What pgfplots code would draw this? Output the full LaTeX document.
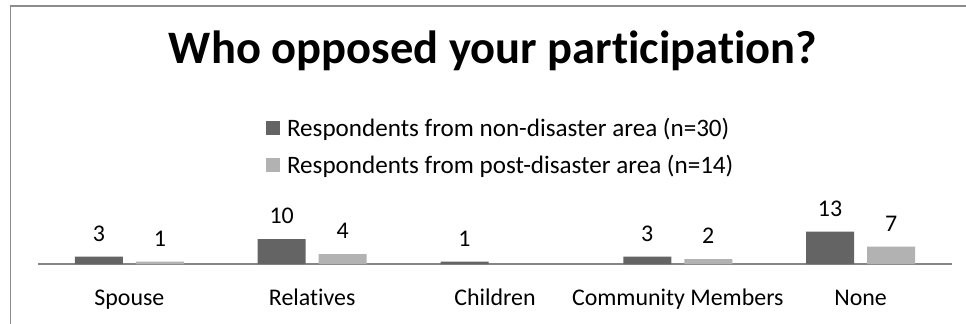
\documentclass[border=0pt]{standalone}
\usepackage{fontspec}
\setmainfont{Carlito}[Ligatures=NoCommon]
\usepackage{pgfplots}
\pgfplotsset{compat=1.18}
\definecolor{dark}{HTML}{646464}
\definecolor{light}{HTML}{B2B2B2}
\definecolor{axisgray}{HTML}{868686}
\definecolor{framegray}{HTML}{8C8C8C}
\begin{document}
\begin{tikzpicture}
\useasboundingbox (0,0) rectangle (966bp,324bp);
\fill[white] (0,0) rectangle (966bp,324bp);
\draw[framegray, line width=1.5bp] (10.5bp,0) -- (10.5bp,318bp) -- (966bp,318bp);
\node[anchor=base, font=\fontsize{46.7}{54}\selectfont\bfseries, inner sep=0pt] at (493bp,260bp) {Who opposed your participation?};
\begin{axis}[
  at={(38bp,60bp)}, anchor=south west,
  scale only axis, width=914bp, height=50bp,
  xmin=-0.5, xmax=4.5, ymin=0, ymax=20,
  ybar=13bp, bar width=48bp,
  axis x line*=bottom, axis y line=none,
  x axis line style={axisgray, line width=1.5bp, -},
  xtick={0,1,2,3,4},
  xticklabels={Spouse,Relatives,Children,Community Members,None},
  major tick length=0pt,
  xticklabel style={font=\fontsize{24}{28}\selectfont, anchor=base, yshift=-41bp, inner sep=0pt},
  nodes near coords,
  every node near coord/.append style={font=\fontsize{24}{28}\selectfont, anchor=base, yshift=15.5bp, inner sep=0pt, text=black},
  /pgf/number format/assume math mode=true,
  clip=false,
  legend image code/.code={\path[#1,draw=none] (0bp,-7bp) rectangle (14bp,7bp);},
  legend cell align=left,
  legend style={at={(rel axis cs:0.2495,2.96)}, anchor=north west, draw=none, fill=none,
    inner sep=0pt, outer sep=0pt, row sep=13bp, font=\fontsize{25.2}{29}\selectfont,
    /tikz/every odd column/.append style={column sep=5bp}},
]
\addplot[fill=dark, draw=none] coordinates {(0,3) (1,10) (2,1) (3,3) (4,13)};
\addplot[fill=light, draw=none] coordinates {(0,1) (1,4) (3,2) (4,7)};
\legend{Respondents from non-disaster area (n=30), Respondents from post-disaster area (n=14)}
\end{axis}
\end{tikzpicture}
\end{document}
